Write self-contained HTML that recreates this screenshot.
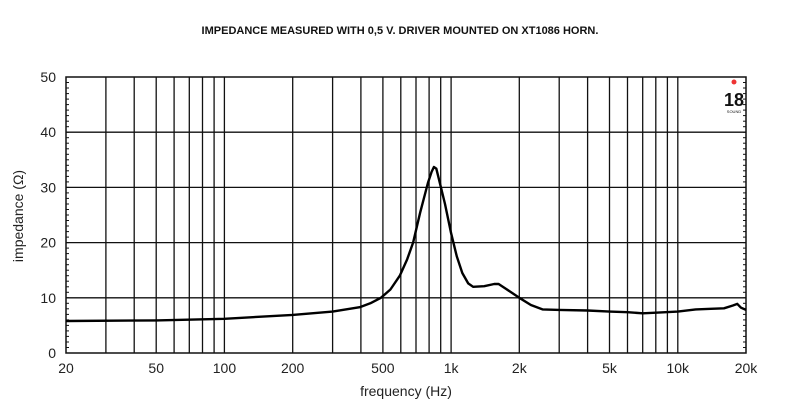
<!DOCTYPE html>
<html><head><meta charset="utf-8"><style>
html,body{margin:0;padding:0;background:#fff;width:800px;height:417px;overflow:hidden}
svg{display:block;font-family:"Liberation Sans",Arial,sans-serif}
</style></head><body>
<svg id="s" width="800" height="417" xmlns="http://www.w3.org/2000/svg">
<text x="400" y="34" text-anchor="middle" font-size="11" font-weight="bold" fill="#111">IMPEDANCE MEASURED WITH 0,5 V. DRIVER MOUNTED ON XT1086 HORN.</text>
<text x="23" y="216" font-size="14" fill="#222" text-anchor="middle" transform="rotate(-90 23 216)">impedance (Ω)</text>
<text x="406" y="396" font-size="14" fill="#222" text-anchor="middle">frequency (Hz)</text>
<g id="g"></g>
<g transform="translate(734,82)">
<text x="0" y="24" font-size="18" font-weight="bold" text-anchor="middle" fill="#111">18</text>
<circle cx="0" cy="0" r="2.5" fill="#e33"/>
<text x="0" y="31" font-size="4" text-anchor="middle" fill="#111">SOUND</text>
</g>
</svg>
<script>
var L=66,R=746,T=77,B=353;
function X(f){return L+(Math.log10(f)-Math.log10(20))*(R-L)/3;}
function Y(z){return B-(B-T)*z/50;}
var h='';
var fs=[];
for(var d=10;d<=10000;d*=10)for(var k=1;k<10;k++){var f=d*k;if(f>20&&f<20000)fs.push(f);}
fs.forEach(function(f){var x=X(f).toFixed(1);h+='<line x1="'+x+'" y1="'+T+'" x2="'+x+'" y2="'+B+'" stroke="#111" stroke-width="1.3"/>';});
for(var z=10;z<50;z+=10){var y=Y(z).toFixed(1);h+='<line x1="'+L+'" y1="'+y+'" x2="'+R+'" y2="'+y+'" stroke="#111" stroke-width="1.3"/>';}
for(var z=1;z<50;z++){var y=Y(z).toFixed(1);h+='<line x1="'+L+'" y1="'+y+'" x2="'+(L+3)+'" y2="'+y+'" stroke="#111"/><line x1="'+(R-3)+'" y1="'+y+'" x2="'+R+'" y2="'+y+'" stroke="#111"/>';}
h+='<rect x="'+L+'" y="'+T+'" width="'+(R-L)+'" height="'+(B-T)+'" fill="none" stroke="#111" stroke-width="1.5"/>';
for(var z=0;z<=50;z+=10)h+='<text x="56" y="'+(Y(z)+5)+'" font-size="14" text-anchor="end" fill="#222">'+z+'</text>';
[[20,'20'],[50,'50'],[100,'100'],[200,'200'],[500,'500'],[1000,'1k'],[2000,'2k'],[5000,'5k'],[10000,'10k'],[20000,'20k']].forEach(function(p){h+='<text x="'+X(p[0])+'" y="373" font-size="14" text-anchor="middle" fill="#222">'+p[1]+'</text>';});
var pts=[[20,5.8],[50,5.9],[100,6.2],[200,6.9],[300,7.5],[395,8.3],[440,9],[490,10],[540,11.5],[594,14],[640,17],[680,20],[730,25.4],[790,30.8],[820,32.8],[840,33.7],[860,33.4],[890,31],[940,27],[1000,21.7],[1060,17.5],[1120,14.5],[1190,12.6],[1250,12],[1400,12.1],[1550,12.5],[1620,12.5],[1750,11.6],[2000,10],[2250,8.7],[2530,7.9],[3000,7.8],[4000,7.7],[5000,7.5],[6000,7.4],[7000,7.2],[8000,7.3],[10000,7.5],[12000,7.9],[14000,8],[16000,8.1],[17500,8.6],[18300,8.9],[19000,8.2],[20000,7.8]];
var d='M'+pts.map(function(p){return X(p[0]).toFixed(1)+','+Y(p[1]).toFixed(1);}).join(' L');
h+='<path d="'+d+'" fill="none" stroke="#000" stroke-width="2.4" stroke-linejoin="round"/>';
document.getElementById('g').innerHTML=h;
</script>
</body></html>
